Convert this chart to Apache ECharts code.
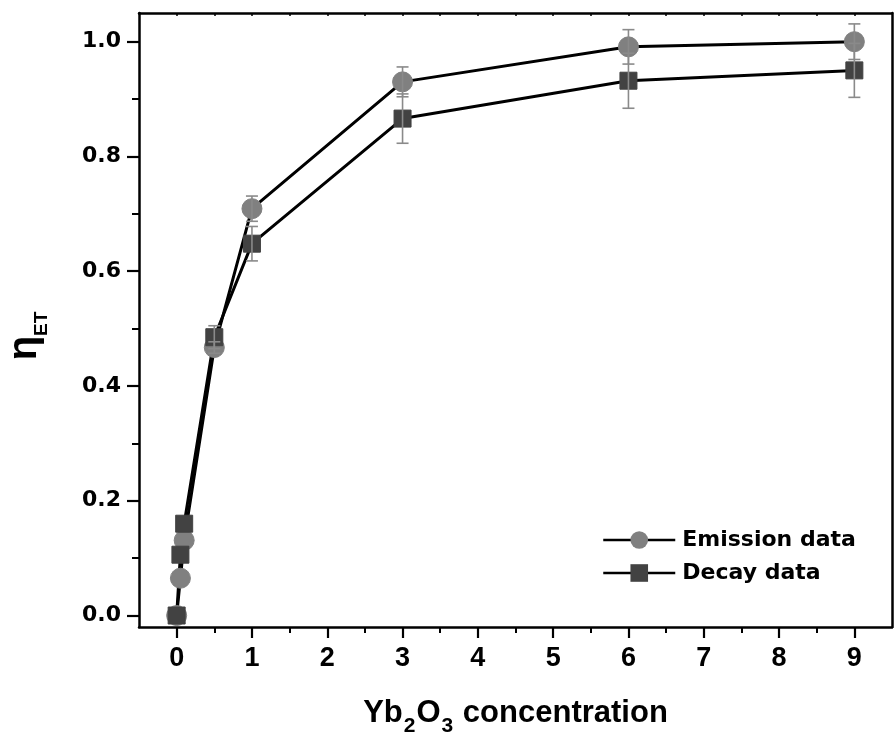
<!DOCTYPE html>
<html>
<head>
<meta charset="utf-8">
<script src="https://cdn.jsdelivr.net/npm/echarts@6/dist/echarts.min.js"></script>
<style>
html,body{margin:0;padding:0;background:#fff;}
#chart{width:894px;height:740px;}
</style>
</head>
<body>
<div id="chart"></div>
<script>
// Data
const concentration = [0, 0.05, 0.1, 0.5, 1, 3, 6, 9];
const emission      = [0, 0.065, 0.131, 0.467, 0.709, 0.930, 0.991, 1.000];
const emissionErr   = [0, 0, 0, 0.010, 0.022, 0.026, 0.030, 0.031];
const decay         = [0, 0.106, 0.160, 0.485, 0.648, 0.866, 0.932, 0.950];
const decayErr      = [0, 0, 0, 0.020, 0.030, 0.043, 0.048, 0.047];
const xTicks = [0, 1, 2, 3, 4, 5, 6, 7, 8, 9];
const xMinorTicks = [0.5, 1.5, 2.5, 3.5, 4.5, 5.5, 6.5, 7.5, 8.5];
const xTopTicks = [0, 0.5, 1, 1.5, 2, 2.5, 3, 3.5, 4, 4.5, 5, 5.5, 6, 6.5, 7, 7.5, 8, 8.5, 9];
const yTicks = [0, 0.2, 0.4, 0.6, 0.8, 1.0];
const yMinorTicks = [0.1, 0.3, 0.5, 0.7, 0.9];
const seriesNames = ['Emission data', 'Decay data'];

const BOLD = 'bold';
const FONT = 'Liberation Sans, Arial, sans-serif';
const FONT_W = 'DejaVu Sans, sans-serif';

function pairs(xs, ys) { return xs.map((x, i) => [x, ys[i]]); }
function errData(xs, ys, es) { return xs.map((x, i) => [x, ys[i] - es[i], ys[i] + es[i]]); }

function errRender(params, api) {
  const x = api.value(0), lo = api.value(1), hi = api.value(2);
  if (hi - lo <= 0) return { type: 'group', children: [] };
  const pLo = api.coord([x, lo]), pHi = api.coord([x, hi]);
  const hw = 6;
  const st = { stroke: '#8a8a8a', lineWidth: 1.6 };
  return {
    type: 'group',
    children: [
      { type: 'line', shape: { x1: pLo[0], y1: pLo[1], x2: pHi[0], y2: pHi[1] }, style: st },
      { type: 'line', shape: { x1: pLo[0] - hw, y1: pLo[1], x2: pLo[0] + hw, y2: pLo[1] }, style: st },
      { type: 'line', shape: { x1: pHi[0] - hw, y1: pHi[1], x2: pHi[0] + hw, y2: pHi[1] }, style: st }
    ]
  };
}

const grid = { left: 139, top: 13, width: 753, height: 614, containLabel: false, outerBoundsMode: 'none' };
const axLine = { show: true, onZero: false, lineStyle: { color: '#000', width: 2.5 } };
const noLine = { show: false, onZero: false };

const option = {
  animation: false,
  backgroundColor: '#fff',
  grid: [grid, Object.assign({}, grid)],
  legend: {
    left: 597, top: 524,
    orient: 'vertical',
    itemWidth: 72, itemHeight: 22, itemGap: 11,
    data: seriesNames,
    lineStyle: { width: 2.5, color: '#000' },
    textStyle: { fontFamily: FONT_W, fontWeight: BOLD, fontSize: 22, color: '#000', padding: [0, 0, 0, 2] }
  },
  xAxis: [
    {
      type: 'value', gridIndex: 0, min: -0.5, max: 9.5,
      position: 'bottom',
      axisLine: axLine,
      splitLine: { show: false },
      axisTick: { show: true, inside: false, length: 11, customValues: xTicks, lineStyle: { color: '#000', width: 2.2 } },
      axisLabel: { show: true, customValues: xTicks, margin: 18, fontFamily: FONT, fontWeight: BOLD, fontSize: 27, color: '#000' },
      name: '{a|Yb}{s|2}{a|O}{s|3}{a| concentration}',
      nameLocation: 'middle', nameGap: 70,
      nameTextStyle: {
        padding: [0, 0, 0, 0],
        rich: {
          a: { fontFamily: FONT, fontWeight: BOLD, fontSize: 31, color: '#000', lineHeight: 40, verticalAlign: 'bottom', padding: [0, 0, 8, 0] },
          s: { fontFamily: FONT, fontWeight: BOLD, fontSize: 21, color: '#000', lineHeight: 22, verticalAlign: 'bottom', padding: [0, 1, 0, 1] }
        }
      }
    },
    {
      type: 'value', gridIndex: 1, min: -0.5, max: 9.5,
      position: 'bottom',
      axisLine: noLine,
      splitLine: { show: false },
      axisTick: { show: true, inside: false, length: 6, customValues: xMinorTicks, lineStyle: { color: '#000', width: 2 } },
      axisLabel: { show: false }
    },
    {
      type: 'value', gridIndex: 1, min: -0.5, max: 9.5,
      position: 'top',
      axisLine: axLine,
      splitLine: { show: false },
      axisTick: { show: true, inside: true, length: 3, customValues: xTopTicks, lineStyle: { color: '#000', width: 1.5 } },
      axisLabel: { show: false }
    }
  ],
  yAxis: [
    {
      type: 'value', gridIndex: 0, min: -0.02, max: 1.05,
      position: 'left',
      axisLine: axLine,
      splitLine: { show: false },
      axisTick: { show: true, inside: false, length: 12, customValues: yTicks, lineStyle: { color: '#000', width: 2.2 } },
      axisLabel: { show: true, customValues: yTicks, margin: 18, fontFamily: FONT_W, fontWeight: BOLD, fontSize: 22, color: '#000',
        formatter: v => v.toFixed(1) },
      name: '{e|η}{s|ET}',
      nameLocation: 'middle', nameGap: 88, nameRotate: 90,
      nameTextStyle: {
        rich: {
          e: { fontFamily: FONT, fontWeight: BOLD, fontSize: 40, color: '#000', lineHeight: 46, verticalAlign: 'bottom', padding: [0, 0, 6, 0] },
          s: { fontFamily: FONT, fontWeight: BOLD, fontSize: 19, color: '#000', lineHeight: 19, verticalAlign: 'bottom', padding: [0, 32, 0, 0] }
        }
      }
    },
    {
      type: 'value', gridIndex: 1, min: -0.02, max: 1.05,
      position: 'left',
      axisLine: noLine,
      splitLine: { show: false },
      axisTick: { show: true, inside: false, length: 7, customValues: yMinorTicks, lineStyle: { color: '#000', width: 2 } },
      axisLabel: { show: false }
    },
    {
      type: 'value', gridIndex: 1, min: -0.02, max: 1.05,
      position: 'right',
      axisLine: axLine,
      splitLine: { show: false },
      axisTick: { show: false },
      axisLabel: { show: false }
    }
  ],
  series: [
    {
      name: seriesNames[0], type: 'line', xAxisIndex: 0, yAxisIndex: 0,
      data: pairs(concentration, emission),
      symbol: 'circle', symbolSize: 20,
      lineStyle: { color: '#000', width: 3 },
      itemStyle: { color: '#808080', borderColor: '#808080' },
      z: 3
    },
    {
      name: seriesNames[1], type: 'line', xAxisIndex: 0, yAxisIndex: 0,
      data: pairs(concentration, decay),
      symbol: 'rect', symbolSize: 17,
      lineStyle: { color: '#000', width: 3 },
      itemStyle: { color: '#424242', borderColor: '#424242' },
      z: 3
    },
    {
      type: 'custom', xAxisIndex: 0, yAxisIndex: 0,
      data: errData(concentration, emission, emissionErr),
      renderItem: errRender, z: 5, silent: true
    },
    {
      type: 'custom', xAxisIndex: 0, yAxisIndex: 0,
      data: errData(concentration, decay, decayErr),
      renderItem: errRender, z: 5, silent: true
    }
  ]
};

const chart = echarts.init(document.getElementById('chart'), null, { renderer: 'canvas' });
chart.setOption(option);
</script>
</body>
</html>
